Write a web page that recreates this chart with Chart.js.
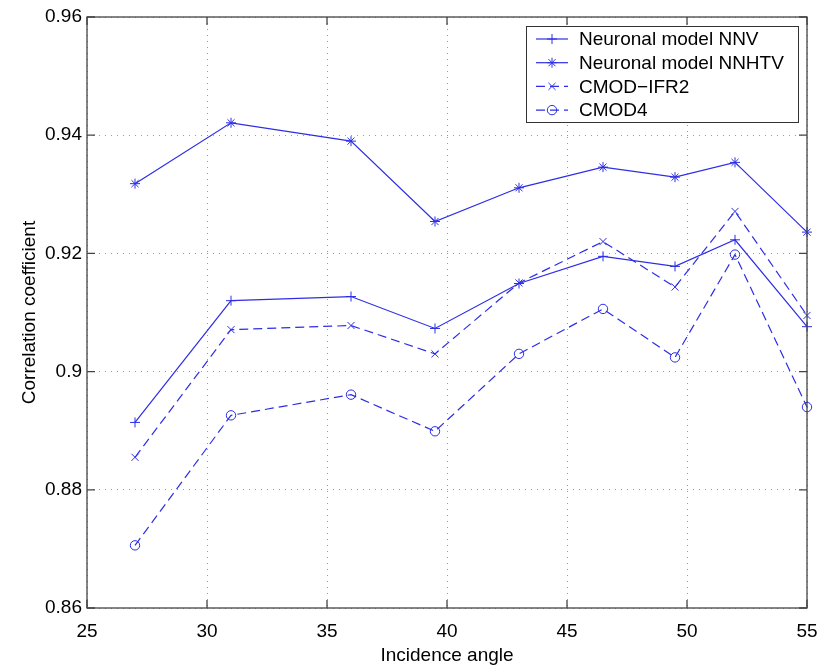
<!DOCTYPE html>
<html>
<head>
<meta charset="utf-8">
<script src="https://cdn.jsdelivr.net/npm/chart.js@4/dist/chart.umd.min.js"></script>
<style>
  body { margin: 0; background: #fff; }
</style>
</head>
<body>
<canvas id="myChart" width="818" height="667"></canvas>
<script>
let angles = [27, 31, 36, 39.5, 43, 46.5, 49.5, 52, 55];

let nnv      = [0.8914, 0.9120, 0.9127, 0.9073, 0.9149, 0.9195, 0.9178, 0.9223, 0.9076];
let nnhtv    = [0.9318, 0.9421, 0.9390, 0.9254, 0.9311, 0.9346, 0.9329, 0.9354, 0.9236];
let cmodIfr2 = [0.8855, 0.9071, 0.9078, 0.9030, 0.9150, 0.9220, 0.9143, 0.9271, 0.9095];
let cmod4    = [0.8706, 0.8926, 0.8961, 0.8899, 0.9030, 0.9106, 0.9024, 0.9198, 0.8940];

let seriesNames = ["Neuronal model NNV", "Neuronal model NNHTV", "CMOD\u2212IFR2", "CMOD4"];

let xTicks = [25, 30, 35, 40, 45, 50, 55];
let yTicks = [0.86, 0.88, 0.9, 0.92, 0.94, 0.96];
let yTickLabels = ["0.86", "0.88", "0.9", "0.92", "0.94", "0.96"];

let blue = 'rgb(45,45,230)';
let font = "'Liberation Sans', Arial, sans-serif";

function pts(ys) {
    return angles.map((a, i) => ({x: a, y: ys[i]}));
}

function series(label, ys, style, dashed, radius) {
    return {
        label: label,
        data: pts(ys),
        borderColor: blue,
        backgroundColor: 'rgba(0,0,0,0)',
        borderWidth: 1.2,
        borderDash: dashed ? [9, 5] : [],
        pointStyle: style,
        pointRadius: radius,
        pointBorderWidth: 1,
        pointBorderColor: blue,
        pointBackgroundColor: 'rgba(0,0,0,0)',
        tension: 0,
        clip: false
    };
}

// matlab style box with inward ticks
let framePlugin = {
    id: 'frame',
    afterDraw(chart) {
        let c = chart.ctx, a = chart.chartArea;
        let xs = chart.scales.x, ys = chart.scales.y;
        c.save();
        c.strokeStyle = '#444';
        c.lineWidth = 1.3;
        c.setLineDash([]);
        c.strokeRect(a.left, a.top, a.right - a.left, a.bottom - a.top);
        c.beginPath();
        xTicks.forEach(v => {
            let px = xs.getPixelForValue(v);
            c.moveTo(px, a.bottom); c.lineTo(px, a.bottom - 8);
            c.moveTo(px, a.top); c.lineTo(px, a.top + 8);
        });
        yTicks.forEach(v => {
            let py = ys.getPixelForValue(v);
            c.moveTo(a.left, py); c.lineTo(a.left + 8, py);
            c.moveTo(a.right, py); c.lineTo(a.right - 8, py);
        });
        c.stroke();
        c.restore();
    }
};

let legendPlugin = {
    id: 'boxLegend',
    afterDraw(chart) {
        let c = chart.ctx;
        let x0 = 526, y0 = 26, w = 272, h = 96;
        c.save();
        c.fillStyle = '#fff';
        c.fillRect(x0, y0, w, h);
        c.strokeStyle = '#333';
        c.lineWidth = 1;
        c.strokeRect(x0 + 0.5, y0 + 0.5, w, h);
        chart.data.datasets.forEach((ds, i) => {
            let y = 39 + i * 23.7;
            c.strokeStyle = blue;
            c.lineWidth = 1.2;
            c.setLineDash(ds.borderDash);
            c.beginPath();
            c.moveTo(536, y); c.lineTo(568, y);
            c.stroke();
            c.setLineDash([]);
            c.lineWidth = 1;
            c.fillStyle = 'rgba(0,0,0,0)';
            Chart.helpers.drawPoint(c, {pointStyle: ds.pointStyle, radius: ds.pointRadius, rotation: 0, borderWidth: 1}, 552, y);
            c.fillStyle = '#000';
            c.font = '19px ' + font;
            c.textAlign = 'left';
            c.textBaseline = 'middle';
            c.fillText(ds.label, 579, y + 1);
        });
        c.restore();
    }
};

let ctx = document.getElementById('myChart').getContext('2d');

let chart = new Chart(ctx, {
    type: 'line',
    data: {
        datasets: [
            series(seriesNames[0], nnv, 'cross', false, 5),
            series(seriesNames[1], nnhtv, 'star', false, 5),
            series(seriesNames[2], cmodIfr2, 'crossRot', true, 5),
            series(seriesNames[3], cmod4, 'circle', true, 4.7)
        ]
    },
    options: {
        responsive: false,
        animation: false,
        layout: { padding: { top: 17, right: 11, left: 0, bottom: 0 } },
        plugins: {
            legend: { display: false },
            tooltip: { enabled: false }
        },
        scales: {
            x: {
                type: 'linear',
                min: 25,
                max: 55,
                afterBuildTicks: s => { s.ticks = xTicks.map(v => ({value: v})); },
                afterFit: s => { s.height = 59; s.paddingLeft = 0; s.paddingRight = 0; },
                ticks: {
                    color: '#000',
                    font: { family: font, size: 19 },
                    padding: 12,
                    maxRotation: 0,
                    callback: v => String(v)
                },
                grid: { color: '#999', lineWidth: 1, drawTicks: false },
                border: { display: false, dash: [1, 5] },
                title: {
                    display: true,
                    text: 'Incidence angle',
                    color: '#000',
                    font: { family: font, size: 19 },
                    padding: { top: 4, bottom: 0 }
                }
            },
            y: {
                type: 'linear',
                min: 0.86,
                max: 0.96,
                afterBuildTicks: s => { s.ticks = yTicks.map(v => ({value: v})); },
                afterFit: s => { s.width = 87; s.paddingTop = 0; s.paddingBottom = 0; },
                ticks: {
                    color: '#000',
                    font: { family: font, size: 19 },
                    padding: 5,
                    callback: (v, i) => yTickLabels[i]
                },
                grid: { color: '#999', lineWidth: 1, drawTicks: false },
                border: { display: false, dash: [1, 5] },
                title: {
                    display: true,
                    text: 'Correlation coefficient',
                    color: '#000',
                    font: { family: font, size: 19 },
                    padding: { top: 18, bottom: 0 }
                }
            }
        }
    },
    plugins: [framePlugin, legendPlugin]
});
</script>
</body>
</html>
